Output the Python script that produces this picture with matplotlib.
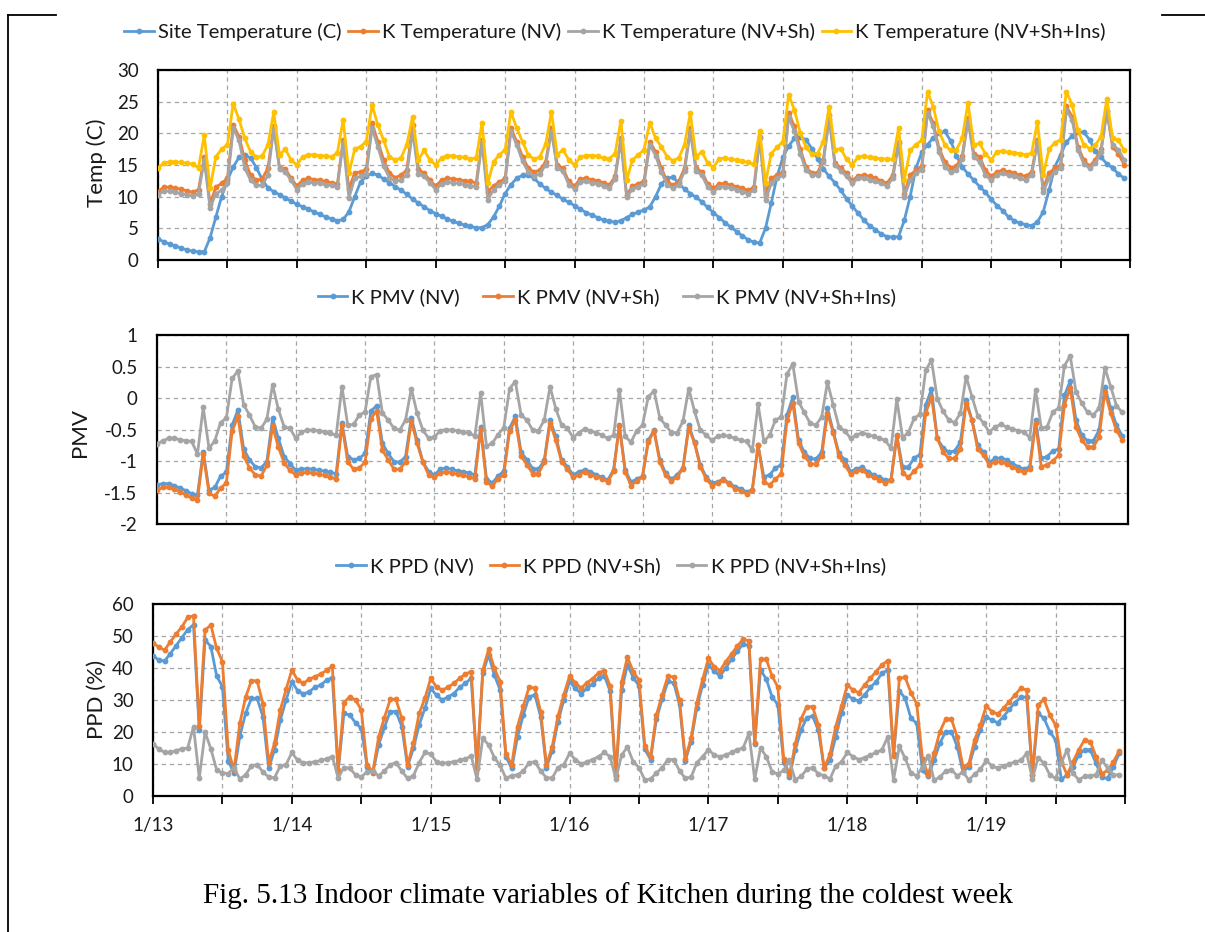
import numpy as np
import matplotlib
matplotlib.use("Agg")
import matplotlib.pyplot as plt
from matplotlib.lines import Line2D

# Hourly series for the week 1/13 - 1/19 (168 hours)
site_temp = [
    3.3, 2.9, 2.5, 2.2, 1.9, 1.6, 1.4, 1.3, 1.3, 3.5, 6.8, 10.0, 12.6, 14.7, 16.2, 16.6, 16.1, 14.6, 12.7, 11.4, 10.8, 10.3, 9.8, 9.3,
    8.8, 8.4, 8.0, 7.6, 7.2, 6.8, 6.5, 6.2, 6.4, 7.6, 10.0, 12.3, 13.2, 13.7, 13.4, 12.8, 12.2, 11.6, 11.0, 10.4, 9.6, 9.0, 8.4, 7.8,
    7.3, 6.9, 6.5, 6.1, 5.8, 5.5, 5.3, 5.1, 5.1, 5.6, 6.8, 8.5, 10.5, 11.9, 12.9, 13.4, 13.4, 12.9, 12.0, 11.3, 10.7, 10.2, 9.6, 9.1,
    8.6, 8.0, 7.5, 7.1, 6.7, 6.3, 6.1, 6.0, 6.2, 6.7, 7.2, 7.6, 7.9, 8.4, 10.0, 12.0, 12.9, 13.1, 12.1, 11.2, 10.5, 9.9, 9.2, 8.3,
    7.5, 6.7, 5.9, 5.2, 4.5, 3.8, 3.2, 2.8, 2.7, 5.0, 9.0, 13.2, 16.2, 18.0, 19.2, 19.4, 19.0, 17.6, 16.0, 14.4, 13.2, 12.2, 11.0, 9.7,
    8.5, 7.4, 6.3, 5.4, 4.8, 4.1, 3.7, 3.6, 3.7, 6.3, 10.0, 14.5, 17.0, 18.2, 19.3, 20.0, 20.3, 18.8, 16.5, 14.7, 13.6, 12.6, 11.6, 10.7,
    9.6, 8.6, 7.8, 6.8, 6.2, 5.8, 5.6, 5.4, 6.0, 7.6, 11.0, 14.7, 16.6, 18.6, 19.6, 20.2, 20.2, 19.0, 17.2, 16.2, 15.2, 14.5, 13.6, 12.9,
]
k_temp_nv = [
    10.8, 11.5, 11.5, 11.3, 11.2, 10.9, 10.7, 11.1, 16.3, 8.9, 11.5, 12.1, 12.9, 21.3, 19.5, 15.8, 13.4, 12.6, 12.8, 14.5, 21.1, 14.6, 14.4, 12.9,
    11.7, 12.6, 12.9, 12.7, 12.6, 12.4, 12.2, 12.0, 18.9, 11.2, 13.8, 13.9, 14.3, 21.6, 18.7, 15.8, 13.7, 13.0, 13.4, 14.2, 21.3, 14.3, 13.7, 12.6,
    11.7, 12.6, 12.9, 12.8, 12.7, 12.5, 12.4, 12.2, 18.9, 10.8, 11.7, 12.3, 12.9, 20.8, 18.7, 16.3, 14.5, 13.9, 14.2, 15.5, 20.8, 15.0, 14.5, 12.4,
    11.7, 12.8, 12.9, 12.7, 12.5, 12.2, 11.8, 13.2, 19.2, 10.2, 11.7, 12.0, 12.5, 18.7, 17.1, 14.5, 12.4, 11.8, 12.4, 14.5, 20.8, 14.5, 13.9, 12.0,
    11.3, 12.0, 12.1, 11.8, 11.6, 11.3, 11.0, 11.5, 19.5, 10.5, 12.9, 13.4, 13.9, 23.2, 21.1, 17.5, 14.7, 13.7, 13.8, 15.8, 22.9, 15.3, 14.6, 13.7,
    12.5, 13.3, 13.4, 13.2, 12.9, 12.5, 12.1, 13.4, 18.7, 10.5, 13.4, 14.2, 14.8, 23.7, 21.6, 17.6, 15.5, 14.6, 14.8, 16.4, 22.5, 16.8, 16.3, 14.2,
    13.2, 13.9, 14.2, 13.9, 13.7, 13.4, 13.2, 13.9, 18.9, 11.3, 13.7, 14.5, 15.0, 24.3, 22.6, 17.9, 15.8, 14.8, 15.8, 17.5, 23.5, 17.8, 16.8, 15.0,
]
k_temp_nv_sh = [
    10.3, 10.9, 10.9, 10.7, 10.5, 10.3, 10.1, 10.5, 15.8, 8.2, 10.5, 11.0, 12.1, 20.8, 18.9, 14.5, 12.6, 11.8, 11.8, 13.4, 20.8, 14.4, 13.9, 12.6,
    11.1, 12.0, 12.3, 12.2, 12.1, 11.9, 11.8, 11.5, 18.6, 9.8, 12.9, 13.2, 13.6, 20.8, 17.9, 14.8, 13.0, 12.5, 12.6, 13.5, 20.4, 13.6, 13.2, 12.2,
    11.1, 12.0, 12.3, 12.2, 12.1, 11.9, 11.7, 11.6, 18.6, 9.5, 11.1, 11.8, 12.5, 20.3, 18.2, 15.6, 13.9, 13.3, 13.6, 15.0, 20.3, 14.5, 14.0, 11.9,
    11.2, 12.3, 12.4, 12.2, 12.0, 11.7, 11.3, 12.8, 18.9, 9.9, 11.2, 11.6, 12.0, 18.2, 16.5, 13.9, 11.9, 11.3, 11.9, 14.0, 20.3, 14.0, 13.4, 11.5,
    10.8, 11.5, 11.6, 11.3, 11.1, 10.8, 10.5, 11.0, 19.2, 9.5, 12.1, 12.9, 13.4, 22.6, 20.3, 16.8, 14.2, 13.4, 13.4, 15.5, 22.3, 15.0, 14.1, 13.2,
    12.1, 12.9, 12.9, 12.6, 12.4, 12.1, 11.7, 12.9, 18.4, 10.0, 12.6, 13.7, 14.2, 23.2, 21.1, 17.1, 14.7, 13.9, 14.2, 16.0, 22.0, 16.3, 15.5, 13.4,
    12.6, 13.4, 13.7, 13.4, 13.2, 12.9, 12.6, 13.4, 18.7, 10.8, 12.9, 13.9, 14.5, 23.7, 22.1, 17.4, 15.2, 14.5, 15.3, 17.1, 23.6, 18.2, 17.4, 15.8,
]
k_temp_nv_sh_ins = [
    14.5, 15.3, 15.5, 15.5, 15.4, 15.3, 15.1, 14.6, 19.7, 11.3, 16.3, 17.5, 18.2, 24.7, 22.2, 19.2, 17.1, 16.2, 16.4, 18.2, 23.3, 16.6, 17.5, 15.8,
    15.0, 16.3, 16.6, 16.6, 16.5, 16.4, 16.3, 16.9, 22.1, 13.7, 17.5, 17.9, 18.7, 24.5, 21.3, 18.9, 16.3, 15.8, 16.1, 18.2, 22.6, 15.8, 17.3, 15.8,
    15.0, 16.1, 16.5, 16.4, 16.3, 16.2, 16.0, 16.1, 21.6, 12.1, 15.5, 16.6, 17.4, 23.4, 20.8, 18.7, 16.6, 15.9, 16.3, 18.3, 23.4, 16.6, 17.4, 15.8,
    15.0, 16.3, 16.5, 16.5, 16.4, 16.1, 16.0, 16.8, 22.0, 12.6, 15.8, 16.6, 17.4, 21.7, 19.2, 17.9, 16.3, 15.7, 16.1, 18.2, 23.2, 16.3, 17.1, 15.3,
    14.6, 16.0, 16.1, 15.9, 15.8, 15.6, 15.4, 15.1, 20.4, 12.2, 16.8, 17.8, 18.7, 26.1, 23.7, 20.1, 17.8, 16.7, 16.8, 18.7, 24.2, 17.4, 17.6, 15.9,
    15.0, 16.3, 16.4, 16.2, 16.1, 16.0, 15.9, 15.9, 20.8, 12.7, 17.3, 18.2, 18.9, 26.5, 24.2, 20.3, 18.2, 17.3, 17.4, 19.2, 24.8, 18.2, 18.4, 16.8,
    15.8, 17.1, 17.2, 17.0, 16.9, 16.8, 16.6, 16.9, 21.8, 13.4, 17.5, 18.5, 19.0, 26.6, 24.5, 20.5, 18.2, 17.6, 18.1, 19.5, 25.5, 19.2, 18.9, 17.3,
]

k_pmv_nv = [
    -1.38, -1.36, -1.36, -1.39, -1.43, -1.47, -1.52, -1.54, -0.85, -1.46, -1.42, -1.24, -1.18, -0.43, -0.19, -0.81, -0.98, -1.09, -1.11, -1.01, -0.32, -0.64, -0.93, -1.04,
    -1.15, -1.13, -1.12, -1.13, -1.15, -1.16, -1.18, -1.20, -0.39, -0.93, -0.98, -0.96, -0.88, -0.21, -0.12, -0.72, -0.88, -1.01, -1.02, -0.93, -0.31, -0.67, -1.01, -1.17,
    -1.22, -1.13, -1.11, -1.13, -1.16, -1.17, -1.19, -1.22, -0.46, -1.28, -1.35, -1.24, -1.16, -0.48, -0.29, -0.86, -0.98, -1.12, -1.13, -0.99, -0.35, -0.61, -0.98, -1.09,
    -1.22, -1.17, -1.14, -1.17, -1.22, -1.26, -1.30, -1.14, -0.43, -1.14, -1.33, -1.29, -1.24, -0.67, -0.51, -0.98, -1.19, -1.29, -1.22, -1.11, -0.43, -0.70, -1.06, -1.25,
    -1.35, -1.33, -1.29, -1.35, -1.41, -1.44, -1.49, -1.46, -0.75, -1.25, -1.22, -1.11, -1.06, -0.27, 0.01, -0.67, -0.86, -0.96, -0.97, -0.86, -0.16, -0.53, -0.88, -0.98,
    -1.17, -1.12, -1.10, -1.17, -1.22, -1.26, -1.30, -1.30, -0.59, -1.10, -1.10, -0.95, -0.90, -0.11, 0.14, -0.64, -0.79, -0.86, -0.84, -0.70, -0.03, -0.35, -0.75, -0.86,
    -1.02, -0.96, -0.95, -0.98, -1.04, -1.09, -1.13, -1.09, -0.35, -0.96, -0.93, -0.84, -0.81, 0.04, 0.27, -0.35, -0.59, -0.68, -0.68, -0.51, 0.18, -0.16, -0.43, -0.60,
]
k_pmv_nv_sh = [
    -1.46, -1.42, -1.42, -1.45, -1.49, -1.54, -1.59, -1.62, -0.89, -1.51, -1.56, -1.43, -1.35, -0.53, -0.29, -0.92, -1.11, -1.22, -1.24, -1.07, -0.45, -0.78, -1.03, -1.15,
    -1.22, -1.19, -1.18, -1.19, -1.21, -1.23, -1.26, -1.28, -0.43, -1.01, -1.13, -1.11, -1.02, -0.33, -0.20, -0.83, -0.98, -1.13, -1.13, -1.02, -0.36, -0.72, -1.02, -1.22,
    -1.26, -1.19, -1.17, -1.19, -1.21, -1.23, -1.25, -1.28, -0.49, -1.33, -1.40, -1.28, -1.22, -0.52, -0.35, -0.92, -1.06, -1.20, -1.20, -1.02, -0.39, -0.67, -1.01, -1.13,
    -1.26, -1.22, -1.17, -1.22, -1.25, -1.28, -1.33, -1.16, -0.45, -1.17, -1.39, -1.32, -1.25, -0.70, -0.52, -1.02, -1.23, -1.32, -1.25, -1.12, -0.47, -0.72, -1.09, -1.28,
    -1.39, -1.35, -1.30, -1.37, -1.44, -1.47, -1.52, -1.46, -0.75, -1.33, -1.38, -1.29, -1.20, -0.35, -0.08, -0.72, -0.92, -1.04, -1.05, -0.92, -0.24, -0.55, -0.92, -1.06,
    -1.21, -1.16, -1.14, -1.22, -1.26, -1.30, -1.35, -1.30, -0.61, -1.19, -1.26, -1.16, -1.07, -0.24, 0.02, -0.64, -0.86, -0.96, -0.96, -0.81, -0.08, -0.35, -0.81, -0.91,
    -1.06, -1.01, -1.01, -1.05, -1.09, -1.14, -1.18, -1.13, -0.40, -1.09, -1.06, -1.00, -0.91, -0.11, 0.16, -0.46, -0.67, -0.78, -0.78, -0.62, 0.10, -0.24, -0.51, -0.67,
]
k_pmv_nv_sh_ins = [
    -0.73, -0.68, -0.64, -0.64, -0.66, -0.68, -0.69, -0.89, -0.15, -0.80, -0.68, -0.39, -0.32, 0.31, 0.43, -0.11, -0.27, -0.46, -0.48, -0.34, 0.21, -0.18, -0.46, -0.48,
    -0.64, -0.54, -0.51, -0.51, -0.52, -0.54, -0.56, -0.59, 0.18, -0.43, -0.42, -0.27, -0.22, 0.34, 0.37, -0.24, -0.35, -0.48, -0.51, -0.35, 0.15, -0.24, -0.51, -0.64,
    -0.62, -0.52, -0.50, -0.51, -0.52, -0.54, -0.56, -0.60, 0.08, -0.76, -0.72, -0.58, -0.47, 0.15, 0.26, -0.27, -0.35, -0.51, -0.52, -0.35, 0.18, -0.17, -0.43, -0.48,
    -0.63, -0.55, -0.49, -0.52, -0.55, -0.59, -0.64, -0.59, 0.13, -0.61, -0.70, -0.52, -0.43, 0.02, 0.11, -0.32, -0.43, -0.55, -0.55, -0.37, 0.15, -0.21, -0.51, -0.59,
    -0.67, -0.61, -0.59, -0.61, -0.64, -0.67, -0.69, -0.83, -0.10, -0.69, -0.59, -0.35, -0.30, 0.38, 0.54, -0.06, -0.23, -0.40, -0.43, -0.30, 0.25, -0.11, -0.46, -0.52,
    -0.64, -0.59, -0.55, -0.58, -0.61, -0.64, -0.67, -0.80, -0.02, -0.63, -0.55, -0.32, -0.26, 0.44, 0.60, -0.01, -0.21, -0.35, -0.39, -0.24, 0.34, 0.02, -0.28, -0.40,
    -0.54, -0.46, -0.42, -0.46, -0.49, -0.52, -0.54, -0.63, 0.13, -0.48, -0.46, -0.22, -0.16, 0.51, 0.67, 0.10, -0.08, -0.23, -0.27, -0.16, 0.48, 0.18, -0.12, -0.23,
]

k_ppd_nv = [
    43.8, 42.5, 42.2, 44.5, 47.0, 49.5, 52.0, 53.5, 20.5, 48.8, 46.7, 37.5, 34.2, 11.0, 7.1, 18.6, 25.8, 30.5, 30.5, 24.8, 8.6, 14.4, 23.7, 30.0,
    35.7, 32.9, 31.9, 32.6, 34.0, 34.7, 36.2, 37.0, 7.6, 25.8, 25.3, 22.9, 21.1, 9.2, 7.2, 16.0, 21.5, 26.4, 26.4, 21.7, 9.2, 14.9, 22.2, 27.4,
    33.6, 31.5, 30.0, 31.0, 32.0, 34.0, 35.2, 36.8, 8.6, 38.4, 44.1, 37.8, 33.1, 12.3, 8.6, 18.5, 25.3, 31.0, 31.6, 24.8, 8.9, 14.1, 23.2, 30.0,
    35.8, 33.6, 32.0, 33.6, 35.0, 36.8, 37.6, 32.8, 6.4, 33.0, 41.0, 37.0, 34.4, 14.6, 11.4, 24.0, 30.2, 35.8, 35.4, 28.6, 11.0, 17.0, 27.6, 34.8,
    41.0, 39.0, 37.5, 40.0, 42.8, 45.2, 47.5, 47.0, 16.3, 39.5, 36.5, 31.0, 28.5, 10.5, 5.8, 14.5, 20.5, 24.5, 25.0, 20.5, 8.7, 11.2, 18.5, 25.8,
    31.6, 30.2, 29.8, 31.6, 34.0, 35.7, 38.4, 39.4, 13.0, 32.9, 30.5, 24.3, 22.7, 8.0, 6.2, 11.2, 16.5, 20.1, 20.1, 15.4, 7.5, 9.2, 15.4, 20.6,
    24.8, 23.7, 22.9, 24.8, 27.1, 29.2, 30.8, 31.0, 6.6, 25.8, 24.3, 20.1, 17.5, 5.2, 6.6, 9.2, 12.8, 14.4, 14.4, 10.2, 5.8, 5.5, 9.2, 13.3,
]
k_ppd_nv_sh = [
    47.9, 46.5, 45.6, 48.2, 50.6, 52.9, 55.8, 56.3, 21.9, 51.9, 53.4, 46.1, 42.0, 14.4, 8.1, 22.7, 30.8, 36.0, 36.0, 28.8, 10.4, 16.5, 26.9, 33.3,
    39.4, 36.2, 35.2, 36.5, 37.3, 38.1, 39.3, 40.5, 8.1, 29.2, 31.0, 30.0, 26.9, 9.7, 7.6, 18.5, 24.5, 30.2, 30.2, 24.3, 9.7, 16.5, 25.8, 30.5,
    36.8, 34.0, 33.1, 34.0, 35.2, 36.8, 38.1, 38.9, 8.6, 39.4, 45.8, 39.9, 35.7, 13.1, 9.7, 21.7, 28.1, 34.0, 33.7, 26.4, 9.7, 15.4, 25.0, 31.6,
    37.5, 35.4, 33.7, 35.4, 36.7, 38.5, 39.2, 34.4, 6.6, 35.7, 43.4, 38.9, 36.2, 15.6, 12.1, 25.3, 31.6, 37.5, 37.1, 30.0, 11.7, 18.0, 29.2, 36.5,
    43.0, 40.4, 39.2, 42.0, 44.4, 46.9, 49.0, 48.5, 16.5, 42.7, 42.7, 37.5, 34.0, 11.7, 6.5, 16.2, 24.0, 27.9, 27.9, 22.2, 8.6, 13.1, 21.7, 28.1,
    34.7, 33.1, 32.3, 34.7, 36.8, 38.9, 41.0, 42.3, 12.5, 36.8, 37.1, 32.3, 28.8, 11.5, 6.6, 13.3, 20.1, 24.0, 24.0, 18.5, 9.2, 10.0, 17.5, 22.2,
    28.1, 26.4, 25.6, 27.4, 29.5, 31.6, 33.7, 33.1, 6.6, 28.4, 30.2, 25.3, 22.2, 10.7, 6.6, 10.7, 14.4, 17.5, 17.0, 12.3, 6.9, 8.1, 10.7, 14.1,
]
k_ppd_nv_sh_ins = [
    16.3, 14.7, 13.6, 13.6, 14.2, 14.7, 15.0, 21.7, 5.5, 20.0, 14.7, 8.2, 7.2, 7.0, 8.9, 5.3, 6.6, 9.4, 9.8, 7.5, 5.9, 5.7, 9.4, 9.8,
    13.6, 11.1, 10.4, 10.4, 10.7, 11.1, 11.6, 12.3, 5.7, 8.9, 8.7, 6.6, 6.0, 7.5, 7.9, 6.3, 7.8, 9.8, 10.4, 7.8, 5.5, 6.3, 10.4, 13.6,
    13.1, 10.7, 10.2, 10.4, 10.7, 11.1, 11.6, 12.5, 5.2, 18.0, 16.0, 12.0, 9.6, 5.5, 6.4, 6.6, 7.8, 10.4, 10.7, 7.8, 5.7, 5.6, 8.9, 9.8,
    13.3, 11.4, 10.0, 10.7, 11.4, 12.3, 13.6, 12.3, 5.4, 12.8, 15.3, 10.7, 8.9, 5.0, 5.3, 7.2, 8.9, 11.4, 11.4, 7.9, 5.5, 5.9, 10.4, 12.3,
    14.5, 12.8, 12.3, 12.8, 13.6, 14.5, 15.0, 19.6, 5.2, 15.0, 12.3, 7.6, 6.9, 8.0, 11.1, 5.1, 6.1, 8.3, 8.9, 6.9, 6.4, 5.3, 9.4, 10.7,
    13.6, 12.3, 11.4, 12.0, 12.8, 13.6, 14.5, 18.5, 5.0, 15.5, 11.8, 7.2, 6.3, 9.1, 12.5, 5.0, 5.9, 7.8, 8.2, 6.3, 7.5, 5.0, 6.8, 8.3,
    11.1, 9.4, 8.7, 9.4, 10.0, 10.7, 11.1, 13.3, 5.4, 12.0, 10.2, 6.6, 5.5, 10.4, 14.5, 7.1, 5.1, 6.1, 6.3, 6.6, 11.2, 8.7, 6.6, 6.6,
]

day_labels = ["1/13", "1/14", "1/15", "1/16", "1/17", "1/18", "1/19"]

temp_names = ["Site Temperature (C)", "K Temperature (NV)",
              "K Temperature (NV+Sh)", "K Temperature (NV+Sh+Ins)"]
pmv_names = ["K PMV (NV)", "K PMV (NV+Sh)", "K PMV (NV+Sh+Ins)"]
ppd_names = ["K PPD (NV)", "K PPD (NV+Sh)", "K PPD (NV+Sh+Ins)"]

BLUE, ORANGE, GRAY, GOLD = "#5B9BD5", "#ED7D31", "#A5A5A5", "#FFC000"
TEXT = "#1a1a1a"
UI_FONT = ["Lato", "DejaVu Sans"]

W, H = 1205, 932
fig = plt.figure(figsize=(W / 100, H / 100), dpi=100)
fig.patch.set_facecolor("white")

hours = np.arange(len(site_temp))


def axes_px(left, top, right, bottom):
    return fig.add_axes([left / W, 1 - bottom / H, (right - left) / W, (bottom - top) / H])


def plot_series(ax, values, color, label):
    ax.plot(hours, values, color=color, lw=2.0, marker="o", ms=4.2,
            markeredgewidth=0, label=label, solid_joinstyle="round", zorder=3)


def style_axes(ax, ylim, yticks, ylabels, xtick_len, xlabels=None):
    ax.set_xlim(0, 168)
    ax.set_ylim(*ylim)
    ax.set_yticks(yticks)
    ax.set_yticklabels(ylabels, fontfamily=UI_FONT, fontsize=13.5, color=TEXT)
    ax.set_xticks(np.arange(0, 169, 12))
    if xlabels is None:
        ax.set_xticklabels([])
    else:
        ax.set_xticklabels(xlabels, fontfamily=UI_FONT, fontsize=13.5, color=TEXT)
    ax.grid(True, color="#A6A6A6", linestyle=(0, (3.5, 3)), linewidth=0.9)
    ax.set_axisbelow(True)
    for sp in ax.spines.values():
        sp.set_linewidth(1.6)
        sp.set_color("black")
    ax.tick_params(axis="y", length=0, pad=14)
    ax.tick_params(axis="x", length=xtick_len, width=1.3, direction="out",
                   color="black", pad=9)


def legend_at(handles, names, cx, cy, ncol, colsp):
    fig.legend(handles, names, loc="center", bbox_to_anchor=(cx / W, 1 - cy / H),
               ncol=ncol, frameon=False, handlelength=1.45, handletextpad=0.2,
               columnspacing=colsp, prop={"family": UI_FONT, "size": 14.6},
               labelcolor=TEXT, borderaxespad=0)


def side_label(x, y, text):
    fig.text(x / W, 1 - y / H, text, rotation=90, ha="center", va="center",
             fontfamily=UI_FONT, fontsize=16, color=TEXT)


# Temperature panel
ax1 = axes_px(158, 70, 1130, 260)
plot_series(ax1, site_temp, BLUE, temp_names[0])
plot_series(ax1, k_temp_nv, ORANGE, temp_names[1])
plot_series(ax1, k_temp_nv_sh, GRAY, temp_names[2])
plot_series(ax1, k_temp_nv_sh_ins, GOLD, temp_names[3])
style_axes(ax1, (0, 30), np.arange(0, 31, 5), [str(v) for v in range(0, 31, 5)], 6)
h1, _ = ax1.get_legend_handles_labels()
legend_at(h1, temp_names, 615, 32, 4, 0.35)
side_label(97, 163, "Temp (C)")

# PMV panel
ax2 = axes_px(157, 335, 1128, 524)
plot_series(ax2, k_pmv_nv, BLUE, pmv_names[0])
plot_series(ax2, k_pmv_nv_sh, ORANGE, pmv_names[1])
plot_series(ax2, k_pmv_nv_sh_ins, GRAY, pmv_names[2])
pmv_ticks = [-2, -1.5, -1, -0.5, 0, 0.5, 1]
style_axes(ax2, (-2, 1), pmv_ticks, ["-2", "-1.5", "-1", "-0.5", "0", "0.5", "1"], 0)
h2, _ = ax2.get_legend_handles_labels()
legend_at(h2, pmv_names, 607, 297, 3, 1.15)
side_label(80, 432, "PMV")

# PPD panel
ax3 = axes_px(153, 604, 1125, 796)
plot_series(ax3, k_ppd_nv, BLUE, ppd_names[0])
plot_series(ax3, k_ppd_nv_sh, ORANGE, ppd_names[1])
plot_series(ax3, k_ppd_nv_sh_ins, GRAY, ppd_names[2])
xl = []
for i in range(15):
    xl.append(day_labels[i // 2] if (i % 2 == 0 and i // 2 < len(day_labels)) else "")
style_axes(ax3, (0, 60), np.arange(0, 61, 10), [str(v) for v in range(0, 61, 10)], 6, xl)
h3, _ = ax3.get_legend_handles_labels()
legend_at(h3, ppd_names, 611, 566, 3, 0.8)
side_label(97, 699, "PPD (%)")

# Caption
fig.text(608 / W, 1 - 896 / H,
         "Fig. 5.13 Indoor climate variables of Kitchen during the coldest week",
         ha="center", va="center", fontfamily=["Liberation Serif", "DejaVu Serif"],
         fontsize=21, color="black")

# Page frame lines
for xs, ys in [((8, 8), (15, 932)), ((8, 56), (15, 15)), ((1162, 1205), (15, 15))]:
    fig.add_artist(Line2D([x / W for x in xs], [1 - y / H for y in ys],
                          color="black", lw=1.3, transform=fig.transFigure))

fig.savefig("out.png", dpi=100, facecolor="white")
